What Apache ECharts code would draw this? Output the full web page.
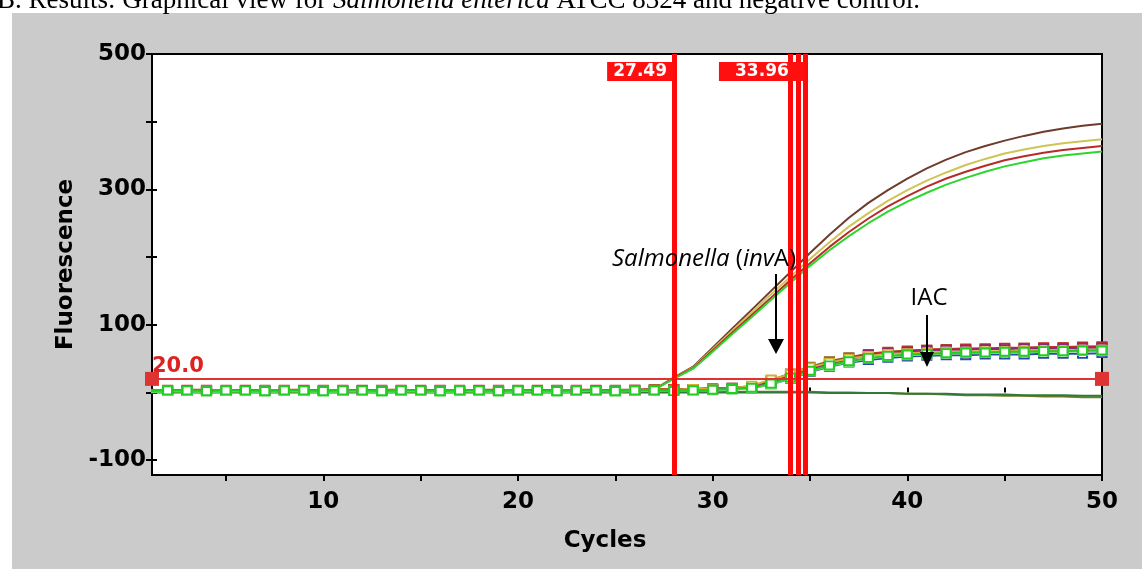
<!DOCTYPE html>
<html>
<head>
<meta charset="utf-8">
<script src="https://cdn.jsdelivr.net/npm/echarts@6.0.0/dist/echarts.min.js"></script>
<style>
html,body{margin:0;padding:0;background:#fff;}
#main{width:1142px;height:569px;}
</style>
</head>
<body>
<div id="main"></div>
<script>
var cycles = [1,2,3,4,5,6,7,8,9,10,11,12,13,14,15,16,17,18,19,20,21,22,23,24,25,26,27,28,29,30,31,32,33,34,35,36,37,38,39,40,41,42,43,44,45,46,47,48,49,50];
var xTicks = [5,10,15,20,25,30,35,40,45,50];
var xLabels = [10,20,30,40,50];
var yTicks = [-100,0,100,200,300,400,500];
var yLabels = [-100,100,300,500];

// Salmonella invA amplification
var salBrown = [2,1,1,2,1,1,2,1,1,1,2,1,1,2,1,1,1,2,1,1,2,1,2,2,3,3,4,22,38,66,94,122,150,178,206,233,258,280,299,316,331,344,355,364,372,379,385,390,394,397];
var salYellow = [1,2,1,1,2,1,1,2,1,2,1,1,2,1,2,1,2,1,1,2,1,2,2,3,3,4,5,21,37,64,91,118,145,171,197,222,245,265,283,299,313,325,336,345,353,359,364,368,371,374];
var salRed = [1,1,2,1,1,2,1,1,2,1,1,2,1,1,2,1,1,2,1,2,1,1,2,2,3,3,4,21,36,62,88,114,140,166,191,215,237,257,275,290,304,316,326,335,343,349,354,358,361,364];
var salGreen = [0,1,1,0,1,1,0,1,1,0,1,1,0,1,1,0,1,1,0,1,1,0,1,2,2,3,4,20,35,60,86,111,137,162,187,210,231,250,267,282,295,307,317,326,334,340,346,350,353,356];

// negative controls
var negOlive = [1,1,1,1,1,1,1,1,1,1,1,1,1,1,1,1,1,1,1,1,1,1,1,1,1,1,1,1,1,1,1,1,1,1,1,0,0,-1,-1,-2,-2,-3,-4,-4,-5,-5,-6,-6,-7,-7];
var negGreen = [0,0,0,0,0,0,0,0,0,0,0,0,0,0,0,0,0,0,0,0,0,0,0,0,0,0,0,0,0,0,0,0,0,0,0,-1,-1,-1,-1,-2,-2,-2,-3,-3,-3,-4,-4,-4,-5,-5];

// IAC
var iacBrown = [3,4,3,3,4,3,4,3,3,4,3,4,3,3,4,3,4,3,3,4,3,4,3,3,4,4,5,5,5,6,7,9,18,28,38,46,52,57,60,62,63,64,64,65,65,66,66,67,67,68];
var iacRed = [4,3,4,4,3,4,3,4,4,3,4,3,4,4,3,4,3,4,4,3,4,3,4,4,3,4,4,5,5,6,7,8,15,26,36,44,50,56,59,61,63,64,65,65,66,66,67,67,68,68];
var iacPurple = [2,3,2,3,2,3,2,3,2,3,2,3,2,3,2,3,2,3,2,3,2,3,2,3,3,3,3,4,4,5,6,8,14,24,34,42,49,55,58,60,62,63,63,64,64,65,65,65,66,66];
var iacYellow = [3,3,3,3,3,3,3,3,3,3,3,3,3,3,3,3,3,3,3,3,3,3,3,3,3,3,4,4,5,5,6,10,19,27,37,44,50,54,57,58,59,60,60,61,61,62,62,62,63,63];
var iacBlue = [2,2,3,2,2,3,2,2,3,2,2,3,2,2,3,2,2,3,2,2,3,2,2,3,2,2,3,3,3,4,5,6,12,20,30,38,44,48,51,53,54,55,55,56,56,56,57,57,57,58];
var iacLime = [1,2,2,1,2,2,1,2,2,1,2,2,1,2,2,1,2,2,1,2,2,1,2,2,1,2,2,2,3,3,4,6,12,21,31,39,45,50,53,55,56,57,58,58,59,59,60,60,61,61];
var iacGreen = [2,3,3,2,3,3,2,3,3,2,3,3,2,3,3,2,3,3,2,3,3,2,3,3,2,3,3,2,3,4,5,7,13,22,32,40,46,51,54,56,57,58,59,59,60,60,61,61,62,62];

var threshold = 20;
var ctLines = [28.02, 33.97, 34.39, 34.74];
var ctLabels = ["27.49", "33.96"];

window.onload = function () {
    var myChart = echarts.init(document.getElementById("main"));
    var axisFont = "'DejaVu Sans', sans-serif";
    var xMin = 1.2, xMax = 50, yMin = -122, yMax = 500;

    function curve(name, data, color, marker) {
        var s = {
            name: name,
            type: "line",
            data: cycles.map(function (c, i) { return [c, data[i]]; }),
            lineStyle: {color: color, width: 2},
            itemStyle: {color: color},
            showSymbol: false,
            silent: true
        };
        if (marker) {
            s.showSymbol = true;
            s.showAllSymbol = true;
            s.symbol = "rect";
            s.symbolSize = [9, 8];
            s.itemStyle = {color: "#ffffff", borderColor: color, borderWidth: 2};
        }
        return s;
    }

    var series = [
        curve("neg1", negOlive, "#7a7a20", false),
        curve("neg2", negGreen, "#2f7a3a", false),
        curve("sal1", salBrown, "#6e3c2c", false),
        curve("sal2", salYellow, "#cfc455", false),
        curve("sal3", salRed, "#b82a2a", false),
        curve("sal4", salGreen, "#2ed52e", false),
        curve("iac1", iacBrown, "#8a5a1a", true),
        curve("iac2", iacRed, "#c62a2a", true),
        curve("iac3", iacPurple, "#8a2a7a", true),
        curve("iac4", iacYellow, "#d2b232", true),
        curve("iac5", iacBlue, "#2a4aa8", true),
        curve("iac6", iacLime, "#7ee07e", true),
        curve("iac7", iacGreen, "#22cc22", true)
    ];

    // threshold line and Ct markers
    var lines = [[
        {coord: [xMin, threshold], symbol: "rect", symbolSize: 14},
        {coord: [xMax, threshold], symbol: "rect", symbolSize: 14,
         lineStyle: {color: "#dd3333", width: 2, type: "solid"},
         label: {show: true, position: "insideStartTop", formatter: "20.0", color: "#dd2222",
                 fontFamily: axisFont, fontWeight: "bold", fontSize: 21, distance: [0, 2]}}
    ]];
    ctLines.forEach(function (v) {
        lines.push([
            {coord: [v, yMin], symbol: "none"},
            {coord: [v, yMax], symbol: "none", lineStyle: {color: "#ff0a0a", width: 5, type: "solid"}, label: {show: false}}
        ]);
    });

    series.push({
        name: "ct",
        type: "line",
        data: [],
        silent: true,
        markLine: {
            silent: true,
            animation: false,
            symbol: ["none", "none"],
            itemStyle: {color: "#ee1111"},
            lineStyle: {color: "#dd3333", width: 2, type: "solid"},
            label: {show: false},
            data: lines
        },
        markPoint: {
            silent: true,
            animation: false,
            data: [
                {name: ctLabels[0], coord: [ctLines[0], 474], symbol: "rect", symbolSize: [66, 19], symbolOffset: [-34, 0]},
                {name: ctLabels[1], coord: [ctLines[3], 474], symbol: "rect", symbolSize: [86, 19], symbolOffset: [-43, 0]}
            ],
            itemStyle: {color: "#ff1010"},
            label: {
                show: true,
                position: "inside",
                formatter: "{b}",
                color: "#ffffff",
                fontFamily: axisFont,
                fontWeight: "bold",
                fontSize: 17
            }
        }
    });

    var option = {
        animation: false,
        backgroundColor: "#cbcbcb",
        grid: {
            left: 152, right: 40, top: 54, bottom: 94,
            show: true, backgroundColor: "#ffffff",
            borderColor: "#000000", borderWidth: 2
        },
        xAxis: [
            {
                type: "value", min: xMin, max: xMax,
                name: "Cycles", nameLocation: "middle", nameGap: 55,
                nameTextStyle: {color: "#000", fontFamily: axisFont, fontWeight: "bold", fontSize: 23, padding: [0, 44, 0, 0]},
                axisLine: {show: true, onZero: false, lineStyle: {color: "#000", width: 2}},
                axisTick: {show: true, length: 6, customValues: xTicks, lineStyle: {color: "#000", width: 2}},
                axisLabel: {customValues: xLabels, color: "#000", fontFamily: axisFont, fontWeight: "bold", fontSize: 23, margin: 16},
                splitLine: {show: false}
            },
            {
                type: "value", min: xMin, max: xMax, position: "bottom",
                axisLine: {show: false},
                axisTick: {show: true, inside: true, length: 5, customValues: xTicks, lineStyle: {color: "#000", width: 2}},
                axisLabel: {show: false},
                splitLine: {show: false}
            }
        ],
        yAxis: [
            {
                type: "value", min: yMin, max: yMax,
                name: "Fluorescence", nameLocation: "middle", nameGap: 70, nameRotate: 90,
                nameTextStyle: {color: "#000", fontFamily: axisFont, fontWeight: "bold", fontSize: 23},
                axisLine: {show: true, onZero: false, lineStyle: {color: "#000", width: 2}},
                axisTick: {show: true, length: 6, customValues: yTicks, lineStyle: {color: "#000", width: 2}},
                axisLabel: {customValues: yLabels, color: "#000", fontFamily: axisFont, fontWeight: "bold", fontSize: 23, margin: 6},
                splitLine: {show: false}
            },
            {
                type: "value", min: yMin, max: yMax, position: "left",
                axisLine: {show: false},
                axisTick: {show: true, inside: true, length: 5, customValues: yTicks, lineStyle: {color: "#000", width: 2}},
                axisLabel: {show: false},
                splitLine: {show: false}
            }
        ],
        graphic: [
            {type: "rect", shape: {x: 0, y: 0, width: 1142, height: 13}, style: {fill: "#ffffff"}, silent: true},
            {type: "rect", shape: {x: 0, y: 0, width: 12, height: 569}, style: {fill: "#ffffff"}, silent: true},
            {
                type: "text", x: -3, y: -13, silent: true,
                style: {
                    text: "B. Results: Graphical view for {i|Salmonella enterica} ATCC 8324 and negative control.",
                    fontFamily: "'Liberation Serif', serif", fontSize: 27, fill: "#000",
                    textVerticalAlign: "top", verticalAlign: "top",
                    rich: {i: {fontStyle: "italic", fontFamily: "'Liberation Serif', serif", fontSize: 27, fill: "#000"}}
                }
            },
            {
                type: "text", x: 612, y: 259, z: 100, silent: true,
                style: {
                    text: "{i|Salmonella} ({i|inv}A)",
                    fontFamily: "'Open Sans', sans-serif", fontSize: 24, fill: "#000",
                    textVerticalAlign: "middle", verticalAlign: "middle",
                    rich: {i: {fontStyle: "italic", fontFamily: "'Open Sans', sans-serif", fontSize: 24, fill: "#000"}}
                }
            },
            {type: "line", z: 100, silent: true, shape: {x1: 776, y1: 274, x2: 776, y2: 340}, style: {stroke: "#000", lineWidth: 2}},
            {type: "polygon", z: 100, silent: true, shape: {points: [[768, 339], [784, 339], [776, 354]]}, style: {fill: "#000"}},
            {
                type: "text", x: 929, y: 298, z: 100, silent: true,
                style: {
                    text: "IAC", fontFamily: "'Open Sans', sans-serif", fontSize: 24, fill: "#000",
                    textAlign: "center", align: "center", textVerticalAlign: "middle", verticalAlign: "middle"
                }
            },
            {type: "line", z: 100, silent: true, shape: {x1: 927, y1: 315, x2: 927, y2: 354}, style: {stroke: "#000", lineWidth: 2}},
            {type: "polygon", z: 100, silent: true, shape: {points: [[920, 352], [934, 352], [927, 367]]}, style: {fill: "#000"}}
        ],
        series: series
    };
    myChart.setOption(option);
};
</script>
</body>
</html>
